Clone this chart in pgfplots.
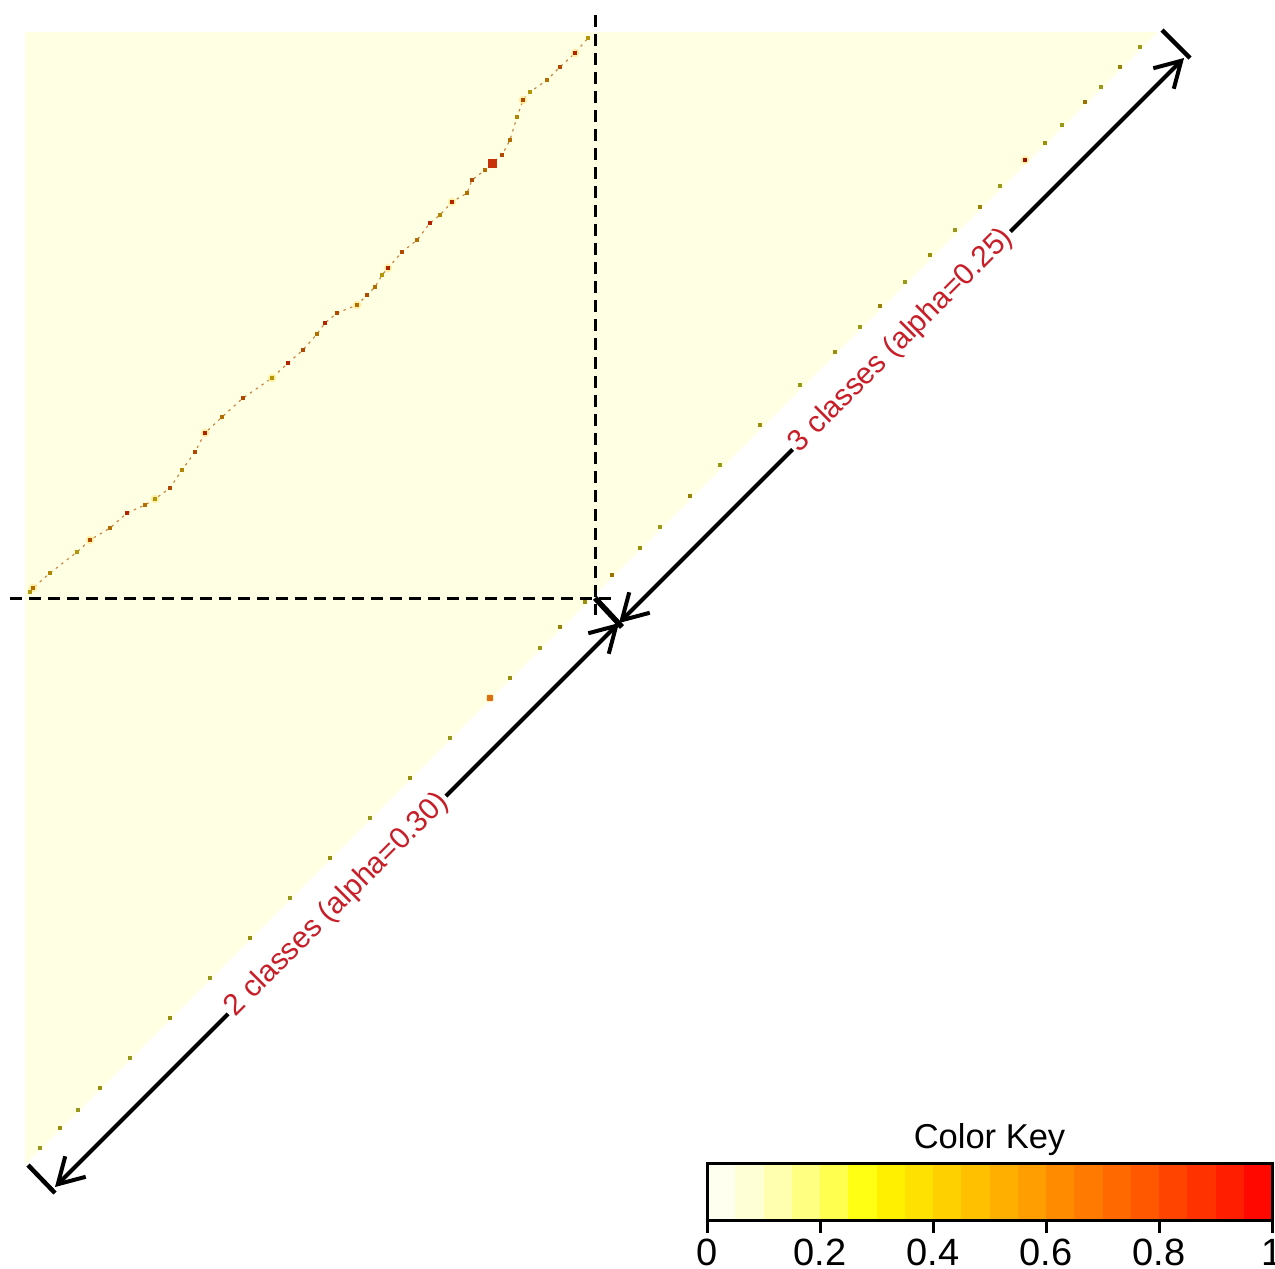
\documentclass[border=0pt]{standalone}
\usepackage{pgfplots}
\pgfplotsset{compat=1.18}
\usepackage{fontspec}
\setmainfont{Liberation Sans}
\usetikzlibrary{arrows.meta}
\definecolor{bgcream}{RGB}{255,255,228}
\definecolor{lblred}{RGB}{200,30,40}
\definecolor{k0}{RGB}{255,255,240}
\definecolor{k1}{RGB}{255,255,214}
\definecolor{k2}{RGB}{255,255,175}
\definecolor{k3}{RGB}{255,255,130}
\definecolor{k4}{RGB}{255,255,80}
\definecolor{k5}{RGB}{255,255,20}
\definecolor{k6}{RGB}{255,240,0}
\definecolor{k7}{RGB}{255,225,0}
\definecolor{k8}{RGB}{255,208,0}
\definecolor{k9}{RGB}{255,192,0}
\definecolor{k10}{RGB}{255,175,0}
\definecolor{k11}{RGB}{255,158,0}
\definecolor{k12}{RGB}{255,140,0}
\definecolor{k13}{RGB}{255,122,0}
\definecolor{k14}{RGB}{255,105,0}
\definecolor{k15}{RGB}{255,88,0}
\definecolor{k16}{RGB}{255,68,0}
\definecolor{k17}{RGB}{255,50,0}
\definecolor{k18}{RGB}{255,30,0}
\definecolor{k19}{RGB}{255,8,0}
\definecolor{halo}{RGB}{255,236,150}

\pgfplotstableread{
x y c
30 592 0.5
33 588 0.7
50 573 0.6
77 552 0.5
90 540 0.8
110 528 0.7
127 513 0.9
145 505 0.7
155 499 0.5
170 488 0.8
182 470 0.6
195 452 0.8
205 433 0.9
222 417 0.7
243 398 0.8
272 378 0.5
288 363 0.9
303 350 0.8
317 334 0.7
325 323 0.9
337 313 0.8
357 305 0.7
367 295 0.8
375 287 0.7
382 275 0.5
388 268 0.9
402 252 0.8
417 240 0.7
430 223 0.9
440 215 0.6
452 202 0.9
467 193 0.7
472 180 0.8
485 170 0.7
492 163 1.0
502 155 0.8
510 140 0.7
517 117 0.6
523 100 0.8
530 92 0.5
547 80 0.7
560 67 0.8
575 53 0.9
588 38 0.5
}\curvedata

\pgfplotstableread{
x y c
1140 47 0.3
1120 67 0.5
1101 87 0.3
1085 102 0.6
1062 125 0.3
1045 143 0.4
1025 160 0.95
1000 186 0.3
980 207 0.5
955 230 0.3
930 255 0.4
905 282 0.3
880 306 0.5
860 327 0.3
835 352 0.4
800 385 0.3
760 425 0.4
720 465 0.3
690 496 0.5
660 527 0.3
640 548 0.4
612 575 0.6
585 602 0.4
560 627 0.5
540 648 0.3
510 678 0.4
450 738 0.3
410 778 0.4
370 818 0.3
330 858 0.4
290 898 0.3
250 938 0.4
210 978 0.3
170 1018 0.4
130 1058 0.3
100 1088 0.4
78 1110 0.3
60 1128 0.4
40 1148 0.3
}\diagdata

\begin{document}
\begin{tikzpicture}
\path[use as bounding box] (0,0) rectangle (510pt,507.2pt);
\clip (0,0) rectangle (510pt,507.2pt);
\begin{axis}[at={(0,0)}, anchor=south west, scale only axis,
  width=510pt, height=507.2pt,
  xmin=0, xmax=1275, ymin=0, ymax=1268, y dir=reverse,
  hide axis, clip=false,
  colormap={heat}{rgb255=(255,255,240) rgb255=(255,255,20) rgb255=(255,175,0) rgb255=(255,0,0)},
  point meta min=0, point meta max=1]
% heatmap background (upper-left triangle)
\addplot[fill=bgcream, draw=none] coordinates {(25,32) (1158,32) (25,1165)} -- cycle;
% halo around the strongest cells
\addplot[only marks, mark=*, mark size=1.5pt, color=halo, opacity=0.7] coordinates {(33,588) (90,540) (155,499) (205,433) (272,378) (357,305) (388,268) (452,202) (492,163) (523,100) (575,53) (490,698) (1025,160)};
% faint path of the curve
\addplot[color={rgb,255:red,200;green,130;blue,60}, line width=0.45pt, dash pattern=on 1pt off 1.8pt] table[x=x,y=y] {\curvedata};
% curve dots
\addplot[scatter, only marks, mark=square*, mark size=0.7pt, point meta=explicit,
  scatter/use mapped color={draw=mapped color!70!black, fill=mapped color!70!black}] table[x=x,y=y,meta=c] {\curvedata};
% diagonal specks
\addplot[scatter, only marks, mark=square*, mark size=0.45pt, point meta=explicit,
  scatter/use mapped color={draw=mapped color!60!black, fill=mapped color!60!black}] table[x=x,y=y,meta=c] {\diagdata};
% prominent spots
\addplot[only marks, mark=square*, mark size=1.6pt, mark options={draw={rgb,255:red,200;green,50;blue,10}, fill={rgb,255:red,200;green,50;blue,10}}] coordinates {(492,163)};
\addplot[only marks, mark=square*, mark size=1.1pt, mark options={draw={rgb,255:red,220;green,110;blue,20}, fill={rgb,255:red,220;green,110;blue,20}}] coordinates {(490,698)};
% dashed block lines
\addplot[black, line width=1.2pt, dash pattern=on 4.6pt off 3pt] coordinates {(595,15) (595,615)};
\addplot[black, line width=1.2pt, dash pattern=on 4.6pt off 3pt] coordinates {(10,598) (612,598)};
% end bars
\addplot[black, line width=1.8pt] coordinates {(1162,30) (1190,58)};
\addplot[black, line width=2.2pt] coordinates {(595,598) (622,627)};
\addplot[black, line width=1.8pt] coordinates {(28,1165) (55,1193)};
% arrows
\addplot[black, line width=1.6pt, {Straight Barb[length=10pt,width=11.6pt]}-{Straight Barb[length=10pt,width=11.6pt]}] coordinates {(619,623) (1184,58)}
  node[pos=0.5, rotate=45, fill=white, inner sep=1pt, text=lblred, font=\fontsize{12pt}{14pt}\selectfont] {3 classes (alpha=0.25)};
\addplot[black, line width=1.6pt, {Straight Barb[length=10pt,width=11.6pt]}-{Straight Barb[length=10pt,width=11.6pt]}] coordinates {(55,1187) (619,623)}
  node[pos=0.5, rotate=45, fill=white, inner sep=1pt, text=lblred, font=\fontsize{12pt}{14pt}\selectfont] {2 classes (alpha=0.30)};
\end{axis}
% colour key
\begin{axis}[at={(282.8pt,19.2pt)}, anchor=south west, scale only axis,
  width=226pt, height=22.8pt,
  xmin=0, xmax=1, ymin=0, ymax=1,
  axis on top,
  axis line style={line width=1.2pt, black},
  xtick={0,0.2,0.4,0.6,0.8,1},
  xticklabels={0,0.2,0.4,0.6,0.8,1},
  ytick=\empty,
  xtick pos=left, tick align=outside,
  major tick length=5pt,
  every tick/.style={black, line width=1.2pt},
  xticklabel style={font=\fontsize{15.2pt}{17pt}\selectfont, anchor=north, inner sep=0pt, text depth=0pt, yshift=-2.4pt},
  title={Color Key},
  title style={at={(0.5,1)}, anchor=base, yshift=0pt, inner sep=0pt, font=\fontsize{13.8pt}{16pt}\selectfont}]
\addplot[fill=k0, draw=none] coordinates {(0,0) (0.05,0) (0.05,1) (0,1)} -- cycle;
\addplot[fill=k1, draw=none] coordinates {(0.05,0) (0.1,0) (0.1,1) (0.05,1)} -- cycle;
\addplot[fill=k2, draw=none] coordinates {(0.1,0) (0.15,0) (0.15,1) (0.1,1)} -- cycle;
\addplot[fill=k3, draw=none] coordinates {(0.15,0) (0.2,0) (0.2,1) (0.15,1)} -- cycle;
\addplot[fill=k4, draw=none] coordinates {(0.2,0) (0.25,0) (0.25,1) (0.2,1)} -- cycle;
\addplot[fill=k5, draw=none] coordinates {(0.25,0) (0.3,0) (0.3,1) (0.25,1)} -- cycle;
\addplot[fill=k6, draw=none] coordinates {(0.3,0) (0.35,0) (0.35,1) (0.3,1)} -- cycle;
\addplot[fill=k7, draw=none] coordinates {(0.35,0) (0.4,0) (0.4,1) (0.35,1)} -- cycle;
\addplot[fill=k8, draw=none] coordinates {(0.4,0) (0.45,0) (0.45,1) (0.4,1)} -- cycle;
\addplot[fill=k9, draw=none] coordinates {(0.45,0) (0.5,0) (0.5,1) (0.45,1)} -- cycle;
\addplot[fill=k10, draw=none] coordinates {(0.5,0) (0.55,0) (0.55,1) (0.5,1)} -- cycle;
\addplot[fill=k11, draw=none] coordinates {(0.55,0) (0.6,0) (0.6,1) (0.55,1)} -- cycle;
\addplot[fill=k12, draw=none] coordinates {(0.6,0) (0.65,0) (0.65,1) (0.6,1)} -- cycle;
\addplot[fill=k13, draw=none] coordinates {(0.65,0) (0.7,0) (0.7,1) (0.65,1)} -- cycle;
\addplot[fill=k14, draw=none] coordinates {(0.7,0) (0.75,0) (0.75,1) (0.7,1)} -- cycle;
\addplot[fill=k15, draw=none] coordinates {(0.75,0) (0.8,0) (0.8,1) (0.75,1)} -- cycle;
\addplot[fill=k16, draw=none] coordinates {(0.8,0) (0.85,0) (0.85,1) (0.8,1)} -- cycle;
\addplot[fill=k17, draw=none] coordinates {(0.85,0) (0.9,0) (0.9,1) (0.85,1)} -- cycle;
\addplot[fill=k18, draw=none] coordinates {(0.9,0) (0.95,0) (0.95,1) (0.9,1)} -- cycle;
\addplot[fill=k19, draw=none] coordinates {(0.95,0) (1,0) (1,1) (0.95,1)} -- cycle;
\end{axis}
\end{tikzpicture}
\end{document}
